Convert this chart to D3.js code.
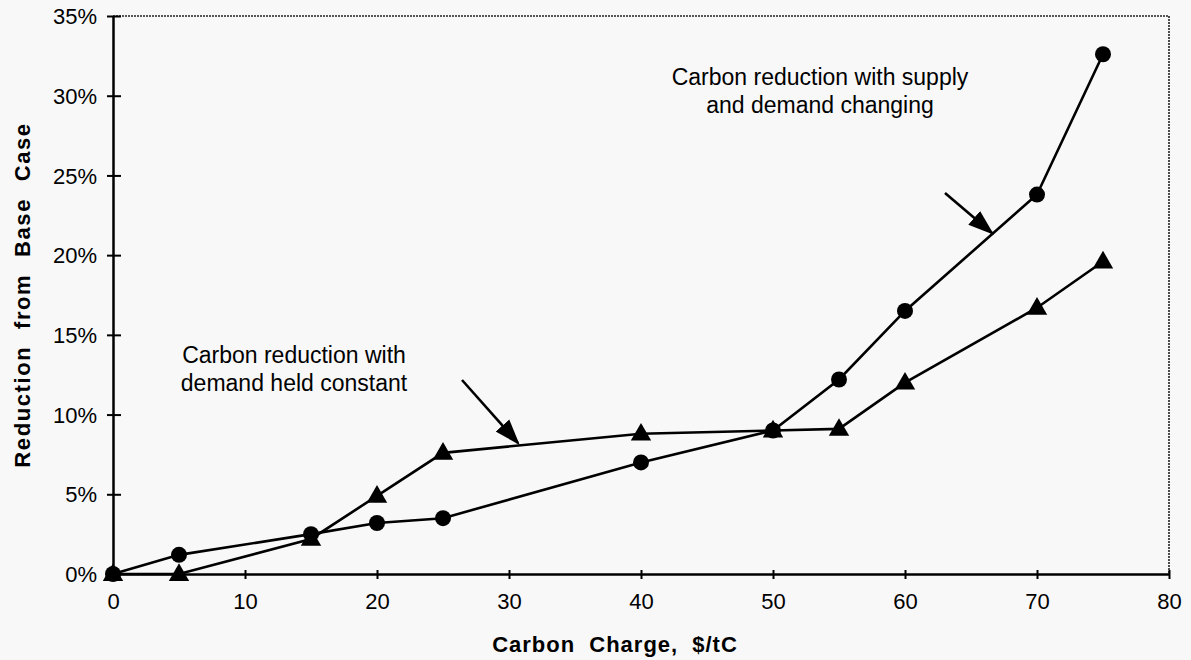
<!DOCTYPE html>
<meta charset="utf-8">
<style>
  body { margin: 0; background: #f8f8f8; }
  svg { display: block; font-family: "Liberation Sans", Arial, sans-serif; }
</style>
<script src="https://d3js.org/d3.v7.min.js"></script>
<div id="chart"></div>
<script>
// data
var charges = [0, 5, 15, 20, 25, 40, 50, 55, 60, 70, 75];
var supplyDemand = [0, 1.2, 2.5, 3.2, 3.5, 7.0, 9.0, 12.2, 16.5, 23.8, 32.6];
var demandConstant = [0, 0, 2.2, 4.9, 7.6, 8.8, 9.0, 9.1, 12.0, 16.7, 19.6];
var xTicks = [0, 10, 20, 30, 40, 50, 60, 70, 80];
var yTicks = [0, 5, 10, 15, 20, 25, 30, 35];

var W = 1191, H = 660;
var svg = d3.select("#chart").append("svg")
    .attr("width", W).attr("height", H);

svg.append("rect").attr("width", W).attr("height", H).attr("fill", "#f8f8f8");

var x = d3.scaleLinear().domain([0, 80]).range([113, 1169]);
var y = d3.scaleLinear().domain([0, 35]).range([574, 16]);

// dotted top + right frame
svg.append("path")
    .attr("d", "M" + x(0) + "," + y(35) + "H" + x(80) + "V" + y(0))
    .attr("fill", "none").attr("stroke", "#222").attr("stroke-width", 1.6)
    .attr("stroke-dasharray", "2,1");

// y axis
var yAxis = svg.append("g")
    .attr("transform", "translate(" + x(0) + ",0)")
    .call(d3.axisLeft(y).tickValues(yTicks).tickFormat(d => d + "%").tickSize(0).tickPadding(16));
yAxis.select(".domain").attr("stroke", "#000").attr("stroke-width", 2.5);
yAxis.selectAll(".tick line").remove();
yAxis.selectAll(".tick").append("line")
    .attr("x1", -6).attr("x2", 8).attr("stroke", "#000").attr("stroke-width", 2);
yAxis.selectAll(".tick text").attr("font-size", 22).attr("fill", "#000").attr("dy", "0.35em");

// x axis
var xAxis = svg.append("g")
    .attr("transform", "translate(0," + y(0) + ")")
    .call(d3.axisBottom(x).tickValues(xTicks).tickSize(0).tickPadding(19));
xAxis.select(".domain").attr("stroke", "#000").attr("stroke-width", 2.5);
xAxis.selectAll(".tick line").remove();
xAxis.selectAll(".tick").filter(d => d > 0).append("line")
    .attr("y1", -4).attr("y2", 5).attr("stroke", "#000").attr("stroke-width", 2);
xAxis.selectAll(".tick text").attr("font-size", 22).attr("fill", "#000").attr("dy", "0.71em");

// axis titles
svg.append("text")
    .attr("x", 615).attr("y", 652)
    .attr("text-anchor", "middle").attr("font-size", 22).attr("font-weight", "bold")
    .attr("word-spacing", 7).attr("letter-spacing", 1)
    .text("Carbon Charge, $/tC");

svg.append("text")
    .attr("transform", "translate(30,295) rotate(-90)")
    .attr("text-anchor", "middle").attr("font-size", 22).attr("font-weight", "bold")
    .attr("word-spacing", 9).attr("letter-spacing", 1.6)
    .text("Reduction from Base Case");

// lines
var line = d3.line().x(d => x(d[0])).y(d => y(d[1]));
var s1 = charges.map((c, i) => [c, supplyDemand[i]]);
var s2 = charges.map((c, i) => [c, demandConstant[i]]);

[s2, s1].forEach(function(s) {
  svg.append("path").datum(s).attr("d", line)
      .attr("fill", "none").attr("stroke", "#000").attr("stroke-width", 2.6);
});

svg.selectAll(".tri").data(s2).enter().append("path")
    .attr("d", d3.symbol().type(d3.symbolTriangle).size(180))
    .attr("transform", d => "translate(" + x(d[0]) + "," + (y(d[1]) + 1) + ")")
    .attr("fill", "#000");

svg.selectAll(".dot").data(s1).enter().append("circle")
    .attr("cx", d => x(d[0])).attr("cy", d => y(d[1])).attr("r", 8)
    .attr("fill", "#000");

// annotations
svg.append("defs").append("marker")
    .attr("id", "ah").attr("viewBox", "0 0 10 10")
    .attr("refX", 9).attr("refY", 5)
    .attr("markerWidth", 10).attr("markerHeight", 10)
    .attr("markerUnits", "strokeWidth")
    .attr("orient", "auto")
  .append("path").attr("d", "M0,1.5 L10,5 L0,8.5 Z").attr("fill", "#000");

function note(lines, tx, ty, from, to) {
  var t = svg.append("text").attr("font-size", 23).attr("fill", "#000")
      .attr("text-anchor", "middle");
  lines.forEach(function(l, i) {
    t.append("tspan").attr("x", tx).attr("y", ty + i * 28).text(l);
  });
  svg.append("line")
      .attr("x1", from[0]).attr("y1", from[1]).attr("x2", to[0]).attr("y2", to[1])
      .attr("stroke", "#000").attr("stroke-width", 2.6)
      .attr("marker-end", "url(#ah)");
}

note(["Carbon reduction with supply", "and demand changing"], 820, 85, [945, 193], [992, 233]);
note(["Carbon reduction with", "demand held constant"], 294, 363, [462, 380], [518, 443]);
</script>
